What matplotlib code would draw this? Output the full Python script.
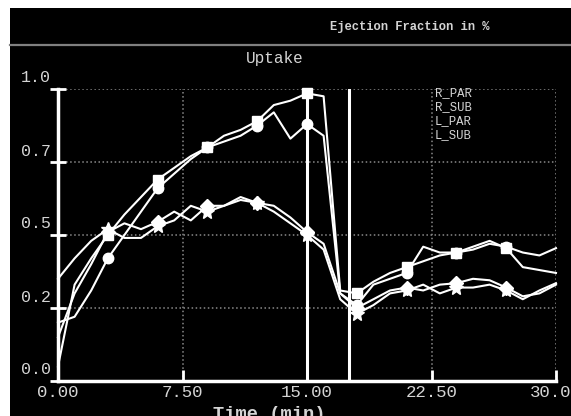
import matplotlib.pyplot as plt
from matplotlib.patches import Rectangle
from matplotlib.lines import Line2D

# Datos (fraccion por minuto)
time_min = list(range(31))
r_par = [0.05, 0.33, 0.42, 0.50, 0.57, 0.63, 0.69, 0.73, 0.77, 0.80, 0.84, 0.86, 0.89, 0.945, 0.96, 0.985,
         0.975, 0.31, 0.30, 0.34, 0.37, 0.39, 0.41, 0.43, 0.44, 0.46, 0.48, 0.455, 0.39, 0.38, 0.37]
r_sub = [0.20, 0.22, 0.31, 0.42, 0.50, 0.58, 0.66, 0.71, 0.76, 0.80, 0.82, 0.84, 0.875, 0.92, 0.83, 0.88,
         0.84, 0.30, 0.26, 0.33, 0.35, 0.37, 0.46, 0.44, 0.44, 0.45, 0.47, 0.46, 0.44, 0.43, 0.455]
l_par = [0.15, 0.30, 0.40, 0.51, 0.54, 0.52, 0.545, 0.58, 0.55, 0.60, 0.60, 0.62, 0.61, 0.60, 0.56, 0.51,
         0.47, 0.30, 0.25, 0.28, 0.31, 0.32, 0.31, 0.33, 0.335, 0.35, 0.345, 0.32, 0.29, 0.30, 0.33]
l_sub = [0.35, 0.42, 0.48, 0.52, 0.49, 0.49, 0.53, 0.55, 0.60, 0.58, 0.60, 0.63, 0.61, 0.58, 0.54, 0.50,
         0.45, 0.28, 0.23, 0.26, 0.30, 0.31, 0.33, 0.30, 0.32, 0.32, 0.33, 0.31, 0.28, 0.31, 0.335]
series_names = ['R_PAR', 'R_SUB', 'L_PAR', 'L_SUB']
x_ticks = [0, 7.5, 15, 22.5, 30]
x_tick_labels = ['0.00', '7.50', '15.00', '22.50', '30.00']
y_ticks = [0, 0.25, 0.5, 0.75, 1.0]
y_tick_labels = ['0.0', '0.2', '0.5', '0.7', '1.0']
markers = ['s', 'o', 'D', '*']

W, H = 571, 416
mono = 'Liberation Mono'
txt = '#d4d4d4'

fig = plt.figure(figsize=(W / 100, H / 100), dpi=100, facecolor='white')
fig.add_artist(Rectangle((10 / W, 0), 1, 1 - 8 / H, transform=fig.transFigure,
                         facecolor='black', edgecolor='none', zorder=-10))
fig.add_artist(Line2D([10 / W, 1], [1 - 45 / H] * 2, color='#808080', lw=1.6))
fig.text(330 / W, 1 - 27 / H, 'Ejection Fraction in %', color=txt, fontsize=8.7,
         family=mono, weight='bold', va='center')
fig.text(275 / W, 1 - 59 / H, 'Uptake', color=txt, fontsize=11.5, family=mono,
         ha='center', va='center')

ax = fig.add_axes([58 / W, 1 - 381 / H, (556 - 58) / W, (381 - 89) / H])
ax.set_facecolor('black')
ax.set_xlim(0, 30)
ax.set_ylim(0, 1)

# Cuadricula punteada y lineas verticales
ax.grid(color='#8a8a8a', linestyle=':', linewidth=1.1)
ax.axvline(15, color='white', lw=2.2, zorder=3)
ax.axvline(17.5, color='white', lw=2.2, zorder=3)

for values, m in zip([r_par, r_sub, l_par, l_sub], markers):
    ms = 10 if m == '*' else 7.5
    ax.plot(time_min, values, color='white', lw=1.5, marker=m, markersize=ms,
            markevery=list(range(3, 28, 3)), markerfacecolor='white',
            markeredgecolor='white', zorder=4, clip_on=False)

for s in ['top', 'right']:
    ax.spines[s].set_visible(False)
for s in ['left', 'bottom']:
    ax.spines[s].set_color('white')
    ax.spines[s].set_linewidth(2.5)

ax.set_xticks(x_ticks)
ax.set_xticklabels(x_tick_labels, family=mono, fontsize=12.5, color=txt)
ax.tick_params(axis='x', direction='in', length=8, width=2, color='white', pad=3)
ax.set_yticks(y_ticks)
ax.tick_params(axis='y', direction='inout', length=12, width=2, color='white', labelleft=False)
for v, lab in zip(y_ticks, y_tick_labels):
    ax.annotate(lab, xy=(0, v), xycoords=('axes fraction', 'data'), xytext=(-7, 11),
                textcoords='offset pixels', ha='right', va='center', color=txt,
                family=mono, fontsize=12, annotation_clip=False)

ax.text(0.424, -0.085, 'Time (min)', transform=ax.transAxes, color=txt, family=mono,
        weight='bold', fontsize=13.5, ha='center', va='top')

# Leyenda como texto
for i, name in enumerate(series_names):
    fig.text(435 / W, 1 - (93 + i * 14) / H, name, color=txt, family=mono,
             fontsize=8.8, va='center')

fig.savefig('out.png', dpi=100, facecolor=fig.get_facecolor())
